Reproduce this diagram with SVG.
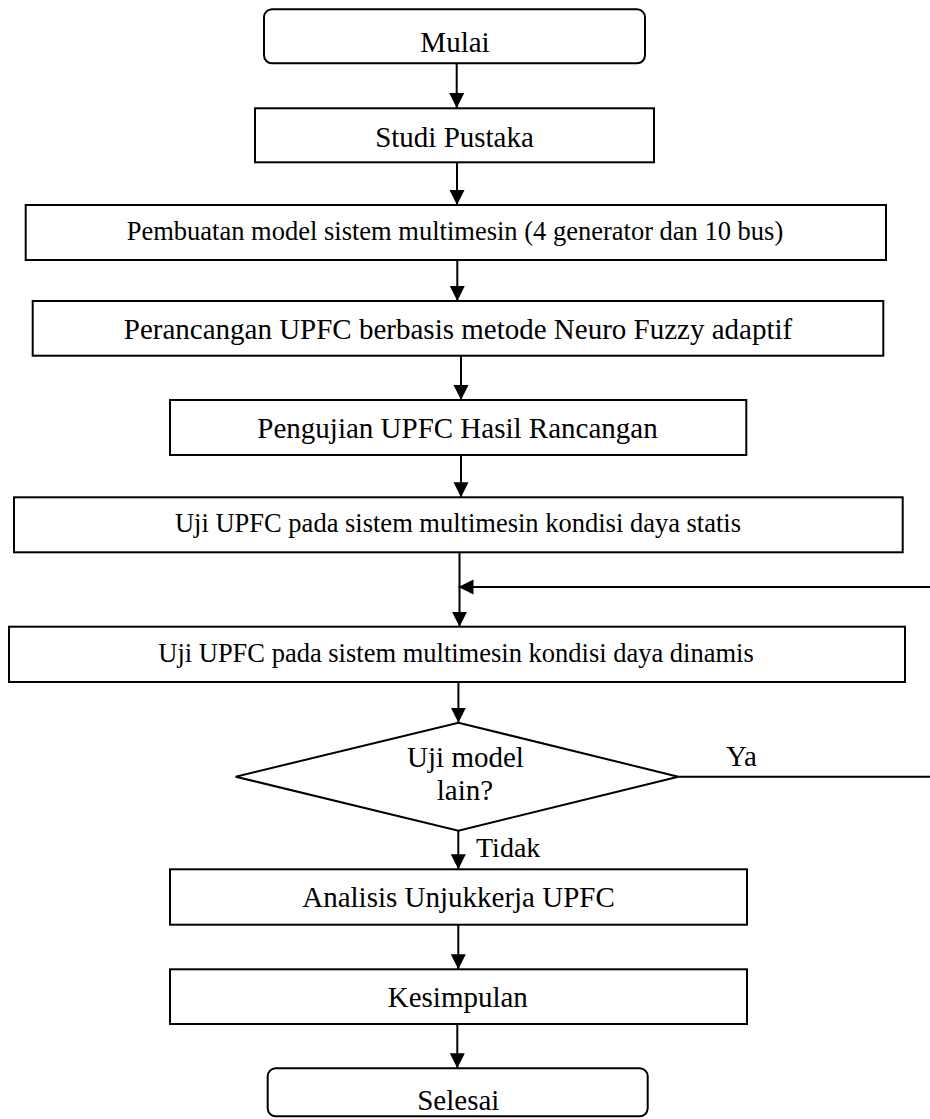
<svg xmlns="http://www.w3.org/2000/svg" width="930" height="1119" viewBox="0 0 930 1119">
<defs>
<marker id="ah" markerUnits="userSpaceOnUse" markerWidth="16" markerHeight="16" refX="15" refY="7.5" orient="auto">
<path d="M0,0 L15,7.5 L0,15 z" fill="#000"/>
</marker>
</defs>
<style>
.box{fill:#fff;stroke:#000;stroke-width:2}
.t{font-family:"Liberation Serif","Times New Roman",serif;fill:#000;text-anchor:middle}
.big{font-size:29px}
.sm{font-size:26.5px}
.c{fill:none;stroke:#000;stroke-width:2}
</style>
<rect width="930" height="1119" fill="#fff"/>
<g id="connectors">
<line class="c" x1="456.7" y1="63" x2="456.7" y2="108" marker-end="url(#ah)"/>
<line class="c" x1="457" y1="162" x2="457" y2="205" marker-end="url(#ah)"/>
<line class="c" x1="457.3" y1="260" x2="457.3" y2="301" marker-end="url(#ah)"/>
<line class="c" x1="461" y1="356" x2="461" y2="400" marker-end="url(#ah)"/>
<line class="c" x1="461" y1="455" x2="461" y2="497.3" marker-end="url(#ah)"/>
<line class="c" x1="459.5" y1="552.3" x2="459.5" y2="626.7" marker-end="url(#ah)"/>
<line class="c" x1="458.4" y1="682" x2="458.4" y2="722.7" marker-end="url(#ah)"/>
<path class="c" d="M678.3,776.7 H933 V587 H458.5" marker-end="url(#ah)"/>
<line class="c" x1="458.3" y1="830.7" x2="458.3" y2="869.3" marker-end="url(#ah)"/>
<line class="c" x1="458.3" y1="924.7" x2="458.3" y2="969.3" marker-end="url(#ah)"/>
<line class="c" x1="457.3" y1="1024" x2="457.3" y2="1068.3" marker-end="url(#ah)"/>
<text class="t big" x="726" y="766" style="text-anchor:start">Ya</text>
<text class="t" x="476" y="857" style="text-anchor:start;font-size:28px">Tidak</text>
</g>
<g id="mulai">
<rect class="box" x="264" y="9.3" width="381" height="54" rx="8"/>
<text class="t big" x="455" y="52.3">Mulai</text>
</g>
<g id="studi">
<rect class="box" x="255" y="108.3" width="399" height="54"/>
<text class="t big" x="454.5" y="146.7">Studi Pustaka</text>
</g>
<g id="pembuatan">
<rect class="box" x="25.7" y="205" width="860.3" height="55"/>
<text class="t sm" x="455" y="240">Pembuatan model sistem multimesin (4 generator dan 10 bus)</text>
</g>
<g id="perancangan">
<rect class="box" x="32.7" y="301" width="850.6" height="54.7"/>
<text class="t big" x="458" y="339">Perancangan UPFC berbasis metode Neuro Fuzzy adaptif</text>
</g>
<g id="pengujian">
<rect class="box" x="170" y="400" width="576.3" height="55"/>
<text class="t big" x="457.5" y="438">Pengujian UPFC Hasil Rancangan</text>
</g>
<g id="uji-statis">
<rect class="box" x="14" y="497.3" width="888.7" height="55"/>
<text class="t sm" x="458" y="532">Uji UPFC pada sistem multimesin kondisi daya statis</text>
</g>
<g id="uji-dinamis">
<rect class="box" x="9" y="626.7" width="896" height="55.3"/>
<text class="t sm" x="456" y="661.7">Uji UPFC pada sistem multimesin kondisi daya dinamis</text>
</g>
<g id="keputusan">
<polygon class="box" points="458.4,722.7 678.3,776.7 458.4,830.7 235.7,776.7"/>
<text class="t big" x="465.5" y="766.7">Uji model</text>
<text class="t big" x="465" y="800">lain?</text>
</g>
<g id="analisis">
<rect class="box" x="170" y="869.3" width="577" height="55.4"/>
<text class="t big" x="458.5" y="906.7">Analisis Unjukkerja UPFC</text>
</g>
<g id="kesimpulan">
<rect class="box" x="170" y="969.3" width="577" height="54.7"/>
<text class="t big" x="457.8" y="1006.7">Kesimpulan</text>
</g>
<g id="selesai">
<rect class="box" x="267.7" y="1068.3" width="380" height="48" rx="8"/>
<text class="t big" x="458.3" y="1110">Selesai</text>
</g>
</svg>
